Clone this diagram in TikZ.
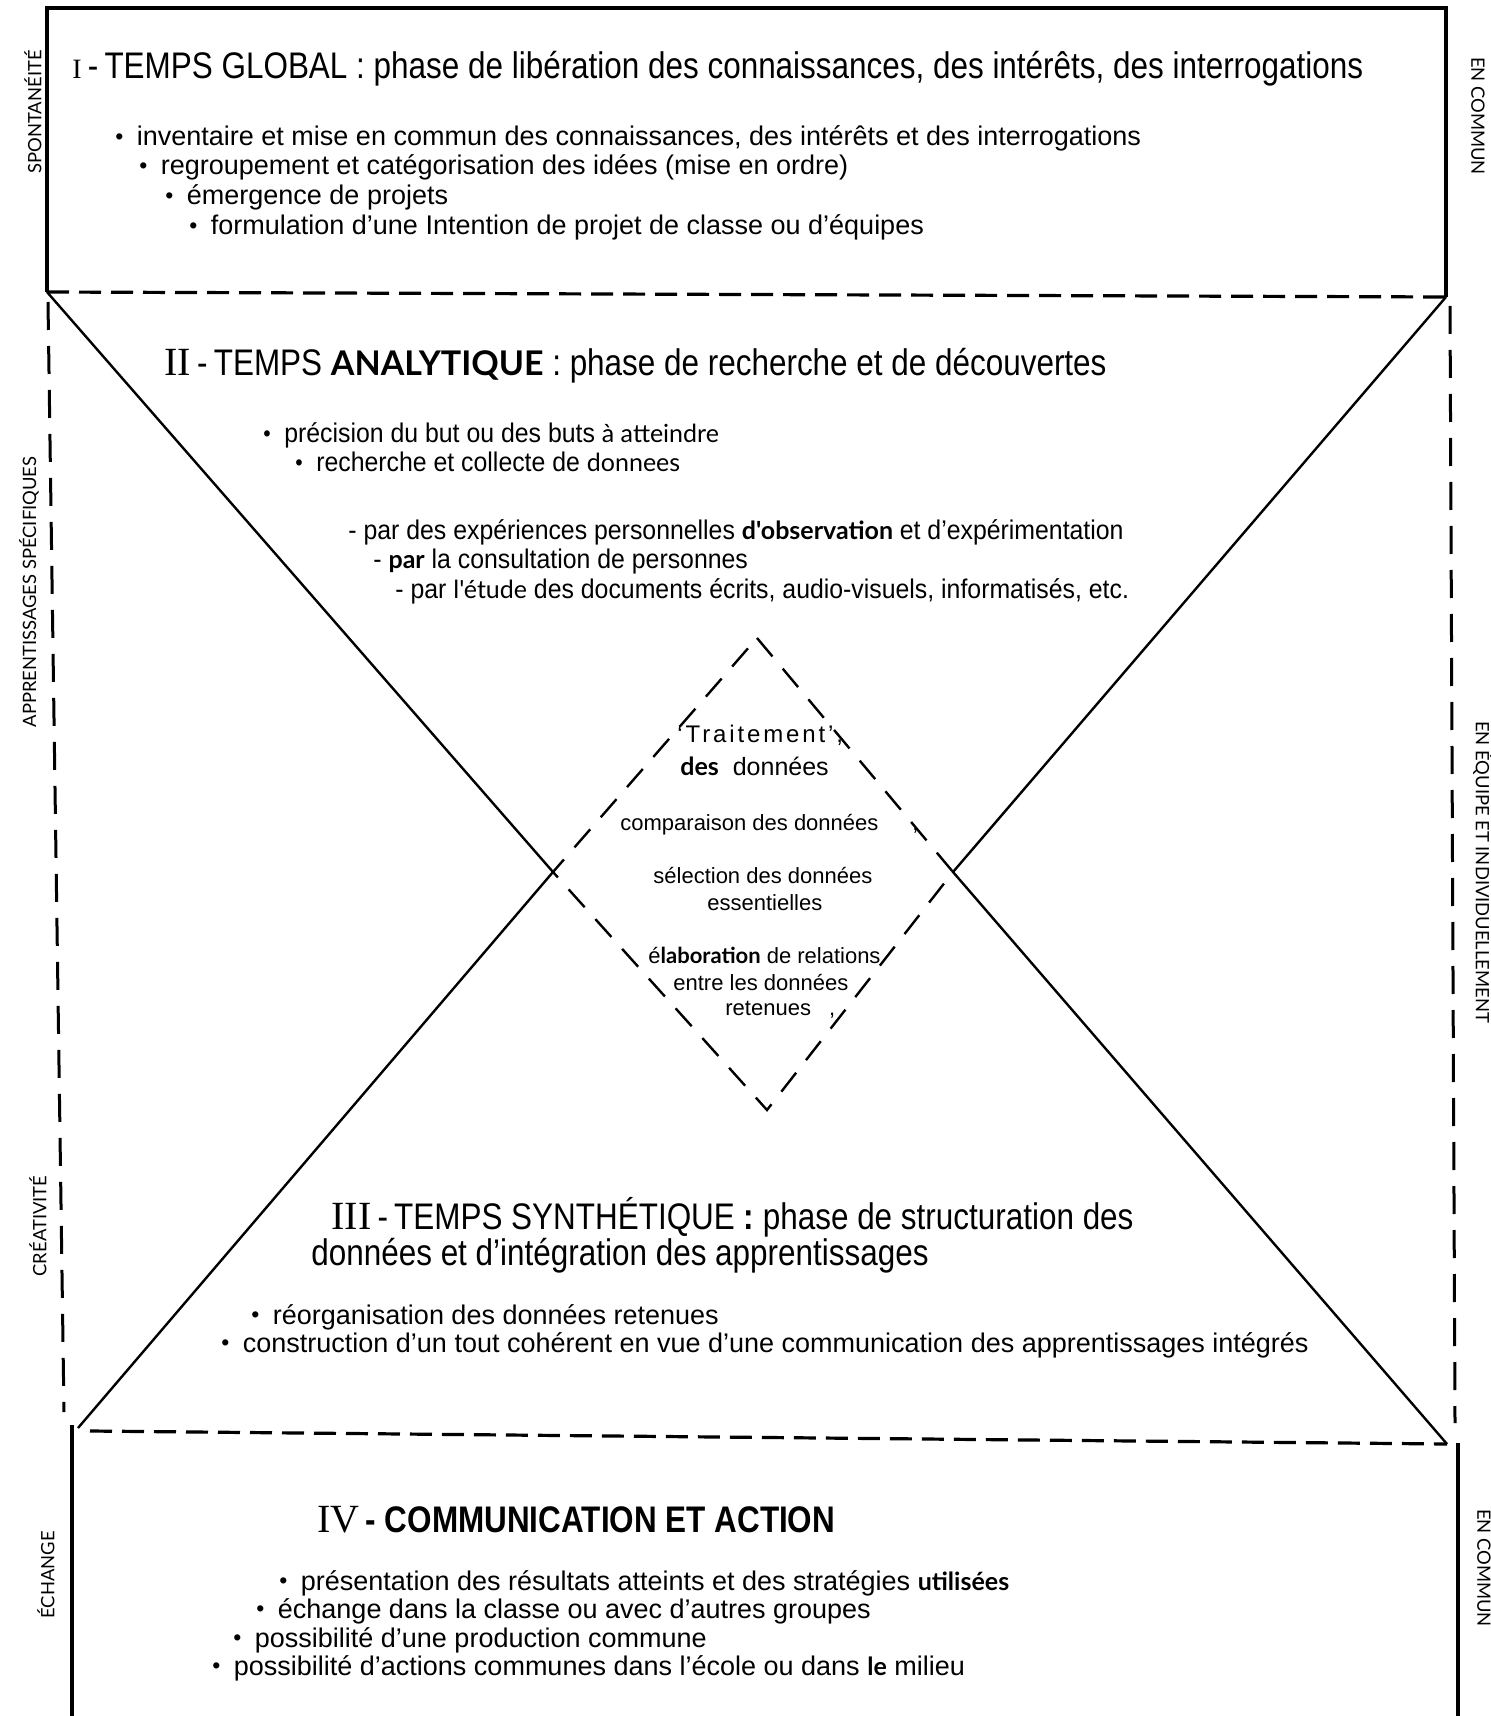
\documentclass[tikz,border=0pt]{standalone}
\usepackage{fontspec}
\setmainfont{Liberation Sans}
\newfontfamily\titfont[FakeStretch=0.85]{Liberation Sans}
\newfontfamily\etroit[FakeStretch=0.92]{Liberation Sans}
\newfontfamily\numfont{Liberation Serif}
\newfontfamily\optfont{Lato}
\usepackage{tikz}
\newcommand{\puce}{\raisebox{0.1ex}{\scalebox{0.85}{\textbullet}}\enspace}
\newcommand{\opt}[1]{{\optfont\fontsize{12.5}{15}\selectfont #1}}

\begin{document}
\begin{tikzpicture}[x=0.5pt,y=-0.5pt,
	plein/.style={line width=2pt},
	diag/.style={line width=1.2pt},
	tiret/.style={line width=1.6pt,dash pattern=on 11pt off 5pt},
	tiretv/.style={line width=1.5pt,dash pattern=on 14pt off 8pt},
	losange/.style={line width=1.2pt,dash pattern=on 12pt off 8pt},
	corps/.style={anchor=base west,inner sep=0pt,font=\fontsize{13.5}{16}\selectfont},
	corpsb/.style={corps,font=\etroit\fontsize{13.5}{16}\selectfont},
	titre/.style={anchor=base west,inner sep=0pt,font=\titfont\fontsize{18.5}{22}\selectfont},
	centre/.style={anchor=base west,inner sep=0pt,font=\fontsize{11}{13}\selectfont},
	cote/.style={inner sep=0pt,font=\optfont\fontsize{9.2}{11}\selectfont}]
		\useasboundingbox (0,0) rectangle (1490,1716);
		\coordinate (hg) at (47,292);
		\coordinate (hd) at (1446,297);
		\coordinate (bg) at (78,1428);
		\coordinate (bd) at (1447,1444);
		\coordinate (lh) at (757,638);
		\coordinate (lg) at (553,872);
		\coordinate (ld) at (953,872);
		\coordinate (lb) at (767,1110);
		\draw[plein] (hg) -- (47,8) -- (1446,8) -- (hd);
		\draw[tiret] (hg) -- (hd);
		\draw[tiretv] (48,302) -- (64,1412);
		\draw[tiretv] (1450,306) -- (1455,1423);
		\draw[diag] (hg) -- (lg) -- (bg);
		\draw[diag] (hd) -- (ld) -- (bd);
		\draw[losange] (lh) -- (ld) -- (lb) -- (lg) -- cycle;
		\draw[tiret] (90,1431) -- (bd);
		\draw[plein] (72,1425) -- (72,1716);
		\draw[plein] (1458,1443) -- (1458,1716);
		\node[titre] (t1) at (72,79) {{\numfont\fontsize{14}{16}\selectfont I}\,-\,TEMPS GLOBAL : phase de libération des connaissances, des intérêts, des interrogations};
		\node[corps] (i1) at (115,146) {\puce inventaire et mise en commun des connaissances, des intérêts et des interrogations};
		\node[corps] (i2) at (139,175) {\puce regroupement et catégorisation des idées (mise en ordre)};
		\node[corps] (i3) at (165,205) {\puce émergence\ de\ projets};
		\node[corps] (i4) at (189,235) {\puce formulation d’une Intention de projet de classe ou d’équipes};
		\node[titre] (t2) at (164,376) {{\numfont\fontsize{20}{22}\selectfont II}\,-\,TEMPS {\optfont\bfseries\fontsize{17}{20}\selectfont ANALYTIQUE} : phase de recherche et de découvertes};
		\node[corpsb] (a1) at (263,443) {\puce précision du but ou des buts \opt{à atteindre}};
		\node[corpsb] (a2) at (295,472) {\puce recherche et collecte de \opt{donnees}};
		\node[corpsb] (a3) at (348,539) {-\ par des expériences personnelles \opt{\bfseries d'observation} et d’expérimentation};
		\node[corpsb] (a4) at (373,568) {-\ \opt{\bfseries par} la consultation de personnes};
		\node[corpsb] (a5) at (395,598) {-\ par \opt{l'étude} des documents écrits, audio-visuels, informatisés, etc.};
		\node[centre,font=\fontsize{12}{14}\selectfont] (c1) at (677,742) {\addfontfeatures{LetterSpace=12}‘Traitement’,};
		\node[centre,font=\fontsize{12.5}{14}\selectfont] (c2) at (680,775) {{\optfont\bfseries des}\ \ données};
		\node[centre] (c3) at (620,830) {comparaison\ des\ données\hspace{17pt},};
		\node[centre] (c4) at (653,883) {sélection\ des\ données};
		\node[centre] (c5) at (707,910) {essentielles};
		\node[centre] (c6) at (648,963) {é{\optfont\bfseries laboration} de relations};
		\node[centre] (c7) at (673,990) {entre les données};
		\node[centre] (c8) at (725,1015) {retenues\hspace{9pt},};
		\node[titre] (t3) at (331,1229) {{\numfont\fontsize{20}{22}\selectfont III}\,-\,TEMPS\ SYNTHÉTIQUE {\bfseries :} phase de structuration des};
		\node[titre] (t3b) at (311,1265) {données et d’intégration des apprentissages};
		\node[corps] (s1) at (251,1324) {\puce réorganisation des données retenues};
		\node[corps] (s2) at (221,1352) {\puce construction d’un tout cohérent en vue d’une communication des apprentissages intégrés};
		\node[titre] (t4) at (317,1532) {{\numfont\fontsize{20}{22}\selectfont IV}\,{\bfseries - COMMUNICATION ET ACTION}};
		\node[corps] (e1) at (279,1590) {\puce présentation des résultats atteints et des stratégies \opt{\bfseries utilisées}};
		\node[corps] (e2) at (256,1618) {\puce échange dans la classe ou avec d’autres groupes};
		\node[corps] (e3) at (233,1647) {\puce possibilité\ d’une\ production\ commune};
		\node[corps] (e4) at (212,1675) {\puce possibilité d’actions communes dans l’école ou dans \opt{\bfseries le} milieu};
		\node[cote,rotate=90] (g1) at (33,112) {SPONTANÉITÉ};
		\node[cote,rotate=90] (g2) at (29,592) {APPRENTISSAGES SPÉCIFIQUES};
		\node[cote,rotate=90] (g3) at (38,1226) {CRÉATIVITÉ};
		\node[cote,rotate=90] (g4) at (46,1575) {ÉCHANGE};
		\node[cote,rotate=-90] (d1) at (1478,116) {EN COMMUN};
		\node[cote,rotate=-90] (d2) at (1483,872) {EN ÉQUIPE ET INDIVIDUELLEMENT};
		\node[cote,rotate=-90] (d3) at (1484,1568) {EN COMMUN};
\end{tikzpicture}
\end{document}
